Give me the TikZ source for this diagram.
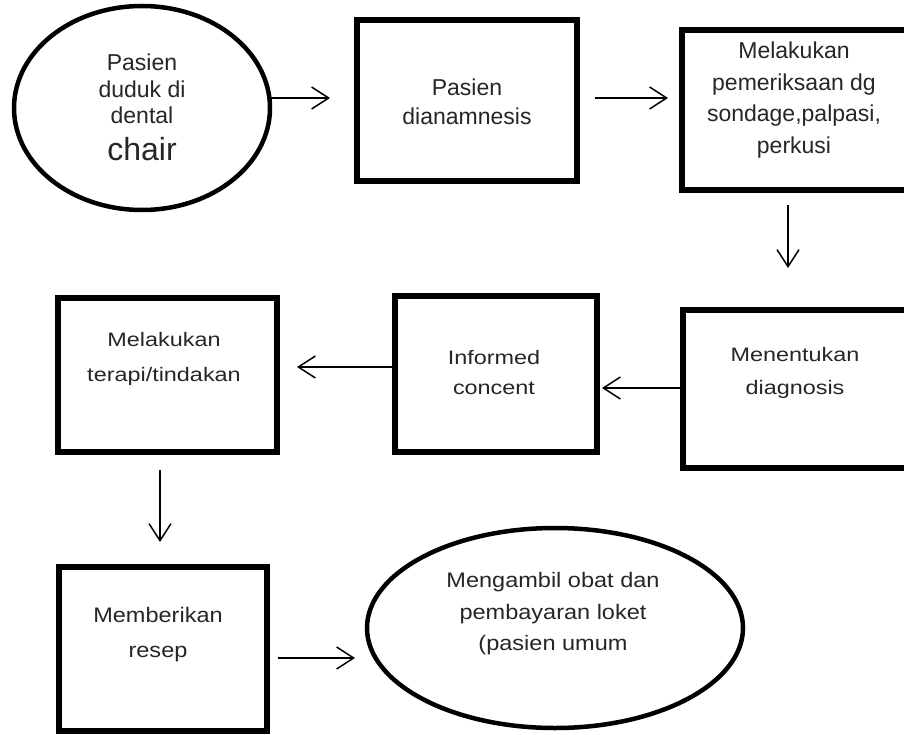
\documentclass[tikz,border=0pt]{standalone}
\usepackage{fontspec}
\setmainfont{Liberation Sans}
\usetikzlibrary{arrows.meta,shapes.geometric}
\begin{document}
\begin{tikzpicture}[x=1pt,y=-1pt,
  box/.style={draw=black,line width=5.5pt,rectangle,inner sep=0pt,outer sep=0pt},
  oval/.style={draw=black,line width=4.5pt,ellipse,inner sep=0pt,outer sep=0pt},
  txt/.style={text=black!85,align=center,inner sep=0pt,font=\fontsize{23}{29}\selectfont},
  txtm/.style={text=black!85,align=center,inner sep=0pt,font=\fontsize{19.5}{33}\selectfont\addfontfeature{FakeStretch=1.2}},
  txtb/.style={text=black!85,align=center,inner sep=0pt,font=\fontsize{21}{33}\selectfont\addfontfeature{FakeStretch=1.12}},
  arr/.style={line width=1.5pt,-{Straight Barb[length=17pt,width=22pt,line width=1.5pt]}}]
\fill[white] (0,0) rectangle (904,735);
\clip (0,0) rectangle (904,735);
% nodes
\node[oval,minimum width=256pt,minimum height=204pt] (e1) at (142,108) {};
\node[box,minimum width=220pt,minimum height=161pt] (b2) at (467,100.5) {};
\node[box,minimum width=228pt,minimum height=160pt] (b3) at (796,110) {};
\node[box,minimum width=228pt,minimum height=158pt] (b5) at (797,389) {};
\node[box,minimum width=202pt,minimum height=156pt] (b4) at (496,374) {};
\node[box,minimum width=219pt,minimum height=154pt] (b6) at (167.5,375) {};
\node[box,minimum width=208pt,minimum height=164pt] (b7) at (163,649) {};
\node[oval,minimum width=376pt,minimum height=200pt] (e2) at (555,628) {};
% texts
\node[txt,font=\fontsize{23}{26.5}\selectfont] (t1) at (142,107.5) {Pasien\\duduk di\\dental\\[10pt]{\fontsize{32}{32}\selectfont chair}};
\node[txt] (t2) at (467,101.5) {Pasien\\dianamnesis};
\node[txt,font=\fontsize{23}{31.5}\selectfont] (t3) at (794,100) {Melakukan\\pemeriksaan dg\\sondage,palpasi,\\perkusi};
\node[txtm] (t5) at (795,373) {Menentukan\\diagnosis};
\node[txtm,font=\fontsize{19.5}{30}\selectfont\addfontfeature{FakeStretch=1.2}] (t4) at (494,373) {Informed\\concent};
\node[txtm,font=\fontsize{19.5}{35}\selectfont\addfontfeature{FakeStretch=1.2}] (t6) at (164,359) {Melakukan\\terapi/tindakan};
\node[txtb,font=\fontsize{21}{35}\selectfont\addfontfeature{FakeStretch=1.12}] (t7) at (158,634.5) {Memberikan\\resep};
\node[txtb,font=\fontsize{21}{31.5}\selectfont\addfontfeature{FakeStretch=1.12}] (t8) at (553,614) {Mengambil obat dan\\pembayaran loket\\(pasien umum};
% connector ends
\coordinate (a1) at (330,98);
\coordinate (s2) at (595,98);
\coordinate (a2) at (668,98);
\coordinate (s3) at (788,205);
\coordinate (a3) at (788,268);
\coordinate (a4) at (602,388);
\coordinate (a5) at (297,367);
\coordinate (s6) at (160,470);
\coordinate (a6) at (160,542);
\coordinate (s7) at (278,658);
\coordinate (a7) at (355,658);
% connectors
\draw[arr] ([yshift=10pt]e1.east) -- (a1);
\draw[arr] (s2) -- (a2);
\draw[arr] (s3) -- (a3);
\draw[arr] ([yshift=1pt]b5.west) -- (a4);
\draw[arr] ([yshift=7pt]b4.west) -- (a5);
\draw[arr] (s6) -- (a6);
\draw[arr] (s7) -- (a7);
\end{tikzpicture}
\end{document}
